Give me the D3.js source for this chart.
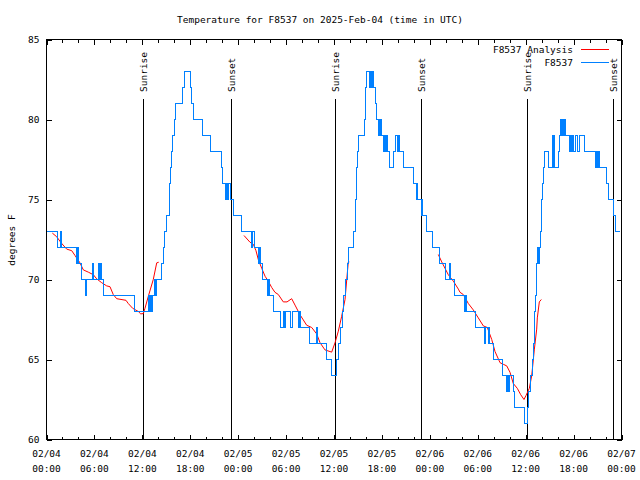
<!DOCTYPE html>
<html><head><meta charset="utf-8">
<script src="https://cdn.jsdelivr.net/npm/d3@7"></script>
<style>
body{margin:0;background:#fff;}
text{font-family:"DejaVu Sans Mono",monospace;font-size:9.5px;fill:#000;}
</style></head>
<body>
<svg id="c" width="640" height="480"></svg>
<script>
// ---- data (hours since 2025-02-04 00:00 UTC) ----
const title = "Temperature for F8537 on 2025-Feb-04 (time in UTC)";
const yLabel = "degrees F";
const dayLabels = ["02/04","02/04","02/04","02/04","02/05","02/05","02/05","02/05","02/06","02/06","02/06","02/06","02/07"];
const timeLabels = ["00:00","06:00","12:00","18:00","00:00","06:00","12:00","18:00","00:00","06:00","12:00","18:00","00:00"];
const yTicks = [60,65,70,75,80,85];
const sunHours = [12.12, 23.07, 36.15, 46.93, 60.13, 70.97];
const sunNames = ["Sunrise","Sunset","Sunrise","Sunset","Sunrise","Sunset"];

const obsHours = [0,1.35,1.7,1.85,3.8,3.85,3.95,4.4,4.85,5.05,5.7,5.85,6.5,6.6,6.75,6.85,7.15,11.05,
 12.75,12.85,13.0,13.15,13.3,13.5,13.65,13.8,14.4,14.6,14.8,15.0,15.35,15.45,15.52,15.6,15.75,16.0,16.2,
 17.05,17.25,18.05,18.2,18.38,19.5,20.55,21.9,22.1,22.4,22.5,22.7,22.8,23.0,23.45,24.4,25.7,25.85,26.0,
 26.5,26.7,26.85,27.1,27.7,27.85,27.95,28.45,29.3,29.65,29.78,29.87,30.6,30.75,31.6,31.72,31.85,32.95,
 33.8,33.95,35.05,35.7,36.35,36.6,36.8,37.05,37.25,37.45,37.65,37.85,38.5,38.65,38.7,38.78,38.84,38.97,
 39.13,39.85,39.92,39.97,40.1,40.5,40.6,40.7,40.8,40.92,41.2,41.35,41.6,41.7,41.8,41.85,41.9,42.17,42.3,
 42.4,42.55,42.65,42.9,43.5,43.75,43.95,44.05,44.25,44.7,45.9,46.3,46.4,46.5,46.98,47.05,47.11,47.6,
 48.3,49.15,49.95,50.5,50.6,51.15,52.4,52.5,52.6,52.74,53.75,54.9,55.0,55.3,55.4,55.5,55.95,57.1,57.6,
 57.7,57.85,57.95,58.45,58.65,59.8,60.2,60.4,60.6,60.8,60.95,61.05,61.15,61.2,61.3,61.45,61.55,61.7,
 61.85,61.92,61.97,62.05,62.2,62.4,62.85,63.3,63.4,63.5,63.6,63.67,64.05,64.2,64.35,64.5,64.6,64.75,
 64.85,65.0,65.45,65.6,65.75,65.9,66.05,66.3,66.45,66.7,67.4,68.75,68.85,69.0,69.15,69.3,70.1,70.35,
 70.95,71.3,71.8];
const obsTemps = [73,72,73,72,71,72,71,70,69,70,71,70,71,70,71,70,69,68,
 69,68,69,68,69,70,69,70,71,72,73,74,75,76,77,78,79,80,81,
 82,83,82,81,80,79,78,77,76,75,76,75,76,75,74,73,72,73,72,
 71,72,71,70,69,70,69,68,67,68,67,68,67,68,67,68,67,66,
 67,66,65,64,65,66,67,68,69,70,71,72,73,74,75,76,77,78,
 79,80,81,82,83,82,83,82,83,82,81,80,79,80,79,80,79,78,79,
 78,79,78,77,78,79,78,79,78,77,76,75,76,75,74,75,74,73,
 72,71,70,71,70,69,68,69,68,68,67,66,67,66,67,66,65,64,63,
 64,63,64,63,62,61,62,63,64,65,66,67,68,69,71,72,71,72,
 73,74,75,76,77,78,77,78,79,77,79,77,78,79,80,79,80,79,
 80,79,78,79,78,79,78,79,78,79,78,77,78,77,78,77,76,75,
 74,73,73];

const anaHours1 = [0.73,1.28,1.82,2.53,3.16,3.57,4.19,4.61,5.23,5.86,6.29,6.91,7.54,7.95,8.36,8.79,9.95,10.24,10.79,11.5,11.8,12.12,12.33,12.75,13.37,13.8,14.05];
const anaTemps1 = [72.9,72.67,72.3,71.9,71.8,71.5,71.04,70.6,70.46,70.3,70.04,69.8,69.6,69.55,69.06,68.8,68.7,68.5,68.2,68.0,67.85,67.87,68.2,68.95,70.0,71.04,71.08];
const anaHours2 = [24.73,25.48,25.9,26.23,26.52,26.95,27.37,27.77,28.2,28.61,29.03,29.65,30.12,30.7,31.12,31.74,32.58,33.21,33.83,34.25,34.87,35.71,36.13,36.54,36.96,37.38,37.79,37.92];
const anaTemps2 = [72.75,72.33,72.2,71.8,71.25,70.7,70.2,69.9,69.5,69.2,69.06,68.6,68.6,68.8,68.4,67.8,67.14,67.0,66.6,66.05,65.6,65.46,66.05,66.77,67.7,68.75,71.1,71.1];
const anaHours3 = [49.06,49.49,49.9,50.31,50.94,51.57,51.78,52.19,52.82,53.44,54.07,54.7,55.2,55.75,56.16,56.79,57.2,57.63,58.04,58.45,58.95,59.38,59.79,60.04,60.46,60.76,61.08,61.38,61.46,61.71,61.96];
const anaTemps3 = [71.56,71.1,70.7,70.3,69.9,69.4,69.2,69.06,68.5,68.1,67.6,67.1,67.0,66.25,65.5,64.8,64.7,64.6,64.2,63.5,63.2,62.8,62.5,62.75,63.2,64.0,65.6,66.9,67.6,68.6,68.75];

const seriesNames = ["F8537 Analysis","F8537"];
const seriesColors = ["#ff0000","#0080ff"];

// ---- chart ----
const svg = d3.select("#c");
const L = 46.5, R = 621.5, T = 39.5, B = 439.5;
const x = d3.scaleLinear().domain([0,72]).range([L,R]);
const y = d3.scaleLinear().domain([60,85]).range([B,T]);

const major = d3.range(0,73,6);
const minor = d3.range(0,73,2).filter(h => h % 6 !== 0);

// title
svg.append("text").attr("x",320).attr("y",23).attr("text-anchor","middle").text(title);

// y label
svg.append("text").attr("transform","translate(15,240) rotate(-90)")
  .attr("text-anchor","middle").text(yLabel);

function styleAxis(g){ g.select(".domain").remove(); g.selectAll("line").attr("stroke","#000").attr("shape-rendering","crispEdges"); g.selectAll("text").remove(); }

// ticks
svg.append("g").attr("transform",`translate(0,${B})`).call(d3.axisBottom(x).tickValues(major).tickSize(-5)).call(styleAxis);
svg.append("g").attr("transform",`translate(0,${B})`).call(d3.axisBottom(x).tickValues(minor).tickSize(-3)).call(styleAxis);
svg.append("g").attr("transform",`translate(0,${T})`).call(d3.axisTop(x).tickValues(major).tickSize(-5)).call(styleAxis);
svg.append("g").attr("transform",`translate(0,${T})`).call(d3.axisTop(x).tickValues(minor).tickSize(-3)).call(styleAxis);
svg.append("g").attr("transform",`translate(${L},0)`).call(d3.axisLeft(y).tickValues(yTicks).tickSize(-5)).call(styleAxis);
svg.append("g").attr("transform",`translate(${R},0)`).call(d3.axisRight(y).tickValues(yTicks).tickSize(-5)).call(styleAxis);

// tick labels
const xl = svg.append("g");
major.forEach((h,i) => {
  const t = xl.append("text").attr("text-anchor","middle");
  t.append("tspan").attr("x",x(h)).attr("y",B+17.5).text(dayLabels[i]);
  t.append("tspan").attr("x",x(h)).attr("y",B+32).text(timeLabels[i]);
});
yTicks.forEach(v => {
  svg.append("text").attr("x",L-7).attr("y",y(v)).attr("dy","0.35em").attr("text-anchor","end").text(v);
});

// border
svg.append("rect").attr("x",L).attr("y",T).attr("width",R-L).attr("height",B-T)
  .attr("fill","none").attr("stroke","#000").attr("shape-rendering","crispEdges");

// sunrise / sunset
sunHours.forEach((h,i) => {
  const xp = Math.round(x(h)) + 0.5;
  svg.append("line").attr("x1",xp).attr("x2",xp).attr("y1",99).attr("y2",B)
    .attr("stroke","#000").attr("shape-rendering","crispEdges");
  svg.append("text").attr("transform",`translate(${xp+3.5},92) rotate(-90)`)
    .attr("text-anchor","start").text(sunNames[i]);
});

// analysis (red)
const lineLin = d3.line().x(d => x(d[0])).y(d => y(d[1]));
[[anaHours1,anaTemps1],[anaHours2,anaTemps2],[anaHours3,anaTemps3]].forEach(([hs,ts]) => {
  svg.append("path").datum(hs.map((h,i)=>[h,ts[i]])).attr("d",lineLin)
    .attr("fill","none").attr("stroke",seriesColors[0]).attr("stroke-width",1);
});

// observations (blue)
const lineStep = d3.line().x(d => x(d[0])).y(d => y(d[1])).curve(d3.curveStepAfter);
svg.append("path").datum(obsHours.map((h,i)=>[h,obsTemps[i]])).attr("d",lineStep)
  .attr("fill","none").attr("stroke",seriesColors[1]).attr("stroke-width",1)
  .attr("shape-rendering","crispEdges");

// legend
const leg = svg.append("g");
seriesNames.forEach((n,i) => {
  const yy = 49.5 + i*13;
  leg.append("text").attr("x",573).attr("y",yy).attr("dy","0.35em").attr("text-anchor","end").text(n);
  leg.append("line").attr("x1",581).attr("x2",609).attr("y1",yy).attr("y2",yy)
    .attr("stroke",seriesColors[i]).attr("stroke-width",1).attr("shape-rendering","crispEdges");
});
</script>
</body></html>
